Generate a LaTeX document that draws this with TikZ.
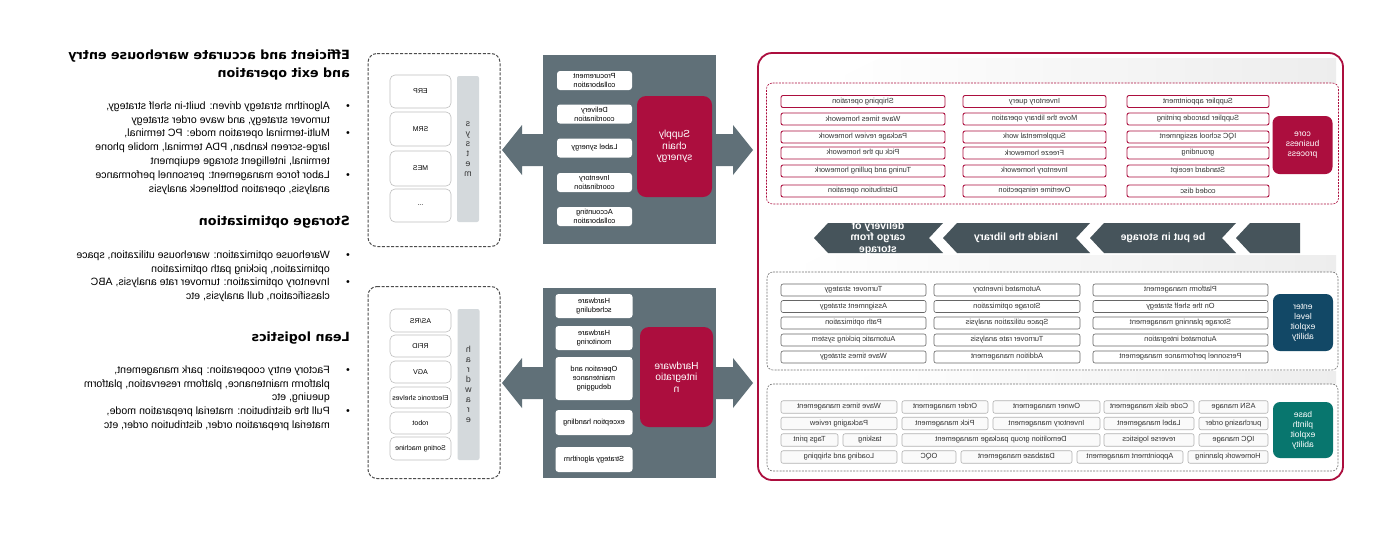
\documentclass[tikz,border=0pt]{standalone}
\usepackage{fontspec}
\setmainfont{Liberation Sans}
\newfontfamily\headfont{DejaVu Sans}
\definecolor{wmsred}{RGB}{172,14,62}
\definecolor{wmsslate}{RGB}{96,112,120}
\definecolor{wmschev}{RGB}{70,84,91}
\definecolor{wmsblue}{RGB}{18,72,102}
\definecolor{wmsteal}{RGB}{8,118,110}
\definecolor{wmsbar}{RGB}{212,217,220}
\begin{document}
\begin{tikzpicture}[x=1pt, y=-1pt,
        every node/.append style={xscale=-1},
        heading/.style={anchor=north west, inner sep=0pt, align=left, font=\headfont\fontsize{12.7}{18}\selectfont\bfseries},
        para/.style={anchor=north west, inner sep=0pt, align=left, font=\fontsize{10.6}{13.7}\selectfont},
        bulletdot/.style={anchor=base, inner sep=0pt, font=\fontsize{10.5}{13.7}\selectfont},
        shell/.style={draw=black!70, dash pattern=on 3pt off 1.6pt, line width=1pt, rounded corners=9pt, minimum width=132, inner sep=0pt},
        sysitem/.style={draw=black!25, line width=0.6pt, rounded corners=5pt, minimum width=61, inner sep=0pt, font=\fontsize{7}{8}\selectfont},
        sysbar/.style={fill=wmsbar, rounded corners=2pt, minimum width=22, inner sep=0pt, align=center, text=black!80, font=\fontsize{8.8}{10}\selectfont},
        panel/.style={fill=wmsslate, minimum width=173, inner sep=0pt},
        task/.style={fill=white, rounded corners=3pt, minimum width=75, inner sep=0pt, align=center, font=\fontsize{7.4}{9}\selectfont},
        hub/.style={fill=wmsred, rounded corners=9pt, text=white, inner sep=0pt, align=center, font=\fontsize{10.2}{11.5}\selectfont},
        outerframe/.style={draw=wmsred, fill=white, line width=1.8pt, rounded corners=14pt, minimum width=585, minimum height=427, inner sep=0pt},
        zone/.style={draw=black!55, dash pattern=on 2pt off 1.2pt, line width=0.6pt, rounded corners=6pt, minimum width=571, inner sep=0pt},
        tag/.style={rounded corners=7pt, text=white, minimum width=60, inner sep=0pt, align=center, font=\fontsize{8.5}{10}\selectfont},
        core/.style={draw=wmsred, line width=0.9pt, rounded corners=2pt, minimum height=12, inner sep=0pt, text=black!80, font=\fontsize{7.4}{8}\selectfont},
        ent/.style={core, draw=black!60, line width=0.6pt},
        plinth/.style={core, draw=black!30, fill=black!2, line width=0.6pt, minimum height=12.5},
        stage/.style={fill=wmschev},
        stagetext/.style={text=white, align=center, inner sep=0pt, font=\fontsize{10.5}{11.5}\selectfont\bfseries},
        sheen/.style={left color=white, right color=black!7}
    ]
        \useasboundingbox[fill=white] (0,0) rectangle (1380,550);

        % Text column
        \node[heading] (h1) at (350,50) {Efficient and accurate warehouse entry\\and exit operation};
        \node[bulletdot] (d1) at (348,109) {•};
        \node[para] (t1) at (330,101.5) {Algorithm strategy driven: built-in shelf strategy,\\turnover strategy, and wave order strategy};
        \node[bulletdot] (d2) at (348,136.5) {•};
        \node[para] (t2) at (330,129) {Multi-terminal operation mode: PC terminal,\\large-screen kanban, PDA terminal, mobile phone\\terminal, intelligent storage equipment};
        \node[bulletdot] (d3) at (348,178) {•};
        \node[para] (t3) at (330,170.5) {Labor force management: personnel performance\\analysis, operation bottleneck analysis};
        \node[heading] (h2) at (350,216) {Storage optimization};
        \node[bulletdot] (d4) at (348,258) {•};
        \node[para] (t4) at (330,250.5) {Warehouse optimization: warehouse utilization, space\\optimization, picking path optimization};
        \node[bulletdot] (d5) at (348,285) {•};
        \node[para] (t5) at (330,277.5) {Inventory optimization: turnover rate analysis, ABC\\classification, dull analysis, etc};
        \node[heading] (h3) at (350,332) {Lean logistics};
        \node[bulletdot] (d6) at (348,373) {•};
        \node[para] (t6) at (330,365.5) {Factory entry cooperation: park management,\\platform maintenance, platform reservation, platform\\queuing, etc};
        \node[bulletdot] (d7) at (348,414) {•};
        \node[para] (t7) at (330,406.5) {Pull the distribution: material preparation mode,\\material preparation order, distribution order, etc};

        % Block arrows behind the panels
        \fill[wmsslate] (502,150) -- (522,125) -- (522,134) -- (733,134) -- (733,125) -- (753,150)
            -- (733,175) -- (733,166) -- (522,166) -- (522,175) -- cycle;
        \fill[wmsslate] (502,383) -- (522,358) -- (522,367) -- (733,367) -- (733,358) -- (753,383)
            -- (733,408) -- (733,399) -- (522,399) -- (522,408) -- cycle;

        % System shell
        \node[shell, minimum height=193] (sys) at (434,150) {};
        \node[sysitem, minimum height=33] (erp) at (420.5,91.5) {ERP};
        \node[sysitem, minimum height=34] (srm) at (420.5,129) {SRM};
        \node[sysitem, minimum height=35] (mes) at (420.5,168.5) {MES};
        \node[sysitem, minimum height=33] (etc) at (420.5,205.5) {...};
        \node[sysbar, minimum height=146] (sysbar) at (468,149) {s\\y\\s\\t\\e\\m};

        % Hardware shell
        \node[shell, minimum height=192] (hw) at (434,382.5) {};
        \node[sysitem, minimum height=23] (asrs) at (420.5,320.5) {AS/RS};
        \node[sysitem, minimum height=22] (rfid) at (420.5,346) {RFID};
        \node[sysitem, minimum height=22] (agv) at (420.5,372) {AGV};
        \node[sysitem, minimum height=21] (shelf) at (420.5,397.5) {Electronic shelves};
        \node[sysitem, minimum height=22] (robot) at (420.5,423) {robot};
        \node[sysitem, minimum height=23] (sort) at (420.5,448.5) {Sorting machine};
        \node[sysbar, minimum height=151] (hwbar) at (468.5,384.5) {h\\a\\r\\d\\w\\a\\r\\e};

        % Supply chain synergy panel
        \node[panel, minimum height=189] (scs) at (629.5,149) {};
        \node[task, minimum height=19] (proc) at (594.5,80.5) {Procurement\\collaboration};
        \node[task, minimum height=19] (deli) at (594.5,114) {Delivery\\coordination};
        \node[task, minimum height=19] (label) at (594.5,148) {Label synergy};
        \node[task, minimum height=19] (invc) at (594.5,182.5) {Inventory\\coordination};
        \node[task, minimum height=19] (acc) at (594.5,216.5) {Accounting\\collaboration};
        \node[hub, minimum width=75, minimum height=101] (scshub) at (674.5,146.5) {Supply\\chain\\synergy};

        % Hardware integration panel
        \node[panel, minimum height=190] (hwi) at (629.5,383) {};
        \node[task, minimum width=77, minimum height=24] (sched) at (594,306) {Hardware\\scheduling};
        \node[task, minimum width=77, minimum height=24] (moni) at (594,338) {Hardware\\monitoring};
        \node[task, minimum width=77, minimum height=43] (oper) at (594,378.5) {Operation and\\maintenance\\debugging};
        \node[task, minimum width=77, minimum height=25] (exc) at (594,422.5) {exception handling};
        \node[task, minimum width=77, minimum height=25] (algo) at (594,459.5) {Strategy algorithm};
        \node[hub, minimum width=73, minimum height=100] (hwihub) at (676.5,377) {Hardware\\integratio\\n};

        % WMS frame
        \node[outerframe] (wms) at (1050.5,266.5) {};
        \shade[sheen] (830,83) -- (880,58) -- (1336,58) -- (1336,83) -- cycle;
        \shade[sheen] (790,272) -- (825,255) -- (1336,255) -- (1336,272) -- cycle;
        \shade[sheen] (850,384) -- (880,371) -- (1336,371) -- (1336,384) -- cycle;

        % Core business process
        \node[zone, draw=wmsred, minimum width=572, minimum height=121] (corez) at (1052.5,143.5) {};
        \node[tag, fill=wmsred, minimum height=58] (coretag) at (1302.5,145) {core\\business\\process};
        \node[core, minimum width=164] (ship) at (863,101.5) {Shipping operation};
        \node[core, minimum width=164] (wavehw) at (863,119) {Wave times homework};
        \node[core, minimum width=164] (packhw) at (863,137) {Package review homework};
        \node[core, minimum width=164] (pickhw) at (863,153) {Pick up the homework};
        \node[core, minimum width=164] (tunehw) at (863,171) {Tuning and pulling homework};
        \node[core, minimum width=164] (dist) at (863,191) {Distribution operation};
        \node[core, minimum width=143] (invq) at (1034.5,101.5) {Inventory query};
        \node[core, minimum width=143] (movel) at (1034.5,119) {Move the library operation};
        \node[core, minimum width=143] (suppw) at (1034.5,137) {Supplemental work};
        \node[core, minimum width=143] (frzhw) at (1034.5,153) {Freeze homework};
        \node[core, minimum width=143] (invhw) at (1034.5,171) {Inventory homework};
        \node[core, minimum width=143] (overt) at (1034.5,191) {Overtime reinspection};
        \node[core, minimum width=142] (sapp) at (1198,101.5) {Supplier appointment};
        \node[core, minimum width=142] (sbar) at (1198,119) {Supplier barcode printing};
        \node[core, minimum width=142] (iqcs) at (1198,137) {IQC school assignment};
        \node[core, minimum width=142] (grnd) at (1198,153) {grounding};
        \node[core, minimum width=142] (stdr) at (1198,171) {Standard receipt};
        \node[core, minimum width=142] (disc) at (1198,191) {coded disc};

        % Warehouse stages
        \fill[stage] (814,238) -- (828,223) -- (943,223) -- (929,238) -- (943,253) -- (828,253) -- cycle;
        \fill[stage] (943,238) -- (957,223) -- (1090,223) -- (1076,238) -- (1090,253) -- (957,253) -- cycle;
        \fill[stage] (1090,238) -- (1104,223) -- (1236,223) -- (1222,238) -- (1236,253) -- (1104,253) -- cycle;
        \fill[stage] (1236,238) -- (1250,223) -- (1300,223) -- (1300,253) -- (1250,253) -- cycle;
        \node[stagetext] (out) at (878,238) {delivery of\\cargo from\\storage};
        \node[stagetext] (inlib) at (1016,238) {Inside the library};
        \node[stagetext] (put) at (1163,238) {be put in storage};

        % Enterprise level exploit ability
        \node[zone, minimum height=98] (entz) at (1052.5,321) {};
        \node[tag, fill=wmsblue, minimum height=57] (enttag) at (1303,322.5) {enter\\level\\exploit\\ability};
        \node[ent, minimum width=145] (turns) at (853.5,290) {Turnover strategy};
        \node[ent, minimum width=145] (assig) at (853.5,306.5) {Assignment strategy};
        \node[ent, minimum width=145] (patho) at (853.5,323) {Path optimization};
        \node[ent, minimum width=145] (autop) at (853.5,340) {Automatic picking system};
        \node[ent, minimum width=145] (waves) at (853.5,357) {Wave times strategy};
        \node[ent, minimum width=146] (autoi) at (1007,290) {Automated inventory};
        \node[ent, minimum width=146] (storo) at (1007,306.5) {Storage optimization};
        \node[ent, minimum width=146] (space) at (1007,323) {Space utilization analysis};
        \node[ent, minimum width=146] (turnr) at (1007,340) {Turnover rate analysis};
        \node[ent, minimum width=146] (addm) at (1007,357) {Addition management};
        \node[ent, minimum width=175] (platm) at (1180.5,290) {Platform management};
        \node[ent, minimum width=175] (shelfs) at (1180.5,306.5) {On the shelf strategy};
        \node[ent, minimum width=175] (splan) at (1180.5,323) {Storage planning management};
        \node[ent, minimum width=175] (autoint) at (1180.5,340) {Automated integration};
        \node[ent, minimum width=175] (perf) at (1180.5,357) {Personnel performance management};

        % Base plinth exploit ability
        \node[zone, minimum height=87] (basez) at (1052.5,427.5) {};
        \node[tag, fill=wmsteal, minimum height=56] (basetag) at (1303,430) {base\\plinth\\exploit\\ability};
        \node[plinth, minimum width=116] (wavem) at (839,407) {Wave times management};
        \node[plinth, minimum width=86] (ordm) at (945,407) {Order management};
        \node[plinth, minimum width=107] (ownm) at (1046.5,407) {Owner management};
        \node[plinth, minimum width=90] (codem) at (1149,407) {Code disk management};
        \node[plinth, minimum width=69] (asn) at (1233.5,407) {ASN manage};
        \node[plinth, minimum width=116] (packr) at (839,423.5) {Packaging review};
        \node[plinth, minimum width=86] (pickm) at (945,423.5) {Pick management};
        \node[plinth, minimum width=107] (invm) at (1046.5,423.5) {Inventory management};
        \node[plinth, minimum width=90] (labm) at (1149,423.5) {Label management};
        \node[plinth, minimum width=69] (purch) at (1233.5,423.5) {purchasing order};
        \node[plinth, minimum width=57] (tags) at (809.5,440) {Tags print};
        \node[plinth, minimum width=54] (task) at (870,440) {tasking};
        \node[plinth, minimum width=198] (demo) at (1001,440) {Demolition group package management};
        \node[plinth, minimum width=90] (rev) at (1149,440) {reverse logistics};
        \node[plinth, minimum width=69] (iqcm) at (1233.5,440) {IQC manage};
        \node[plinth, minimum width=116] (load) at (839,457) {Loading and shipping};
        \node[plinth, minimum width=54] (oqc) at (929,457) {OQC};
        \node[plinth, minimum width=111] (dbm) at (1016.5,457) {Database management};
        \node[plinth, minimum width=106] (appm) at (1130,457) {Appointment management};
        \node[plinth, minimum width=80] (hwplan) at (1228,457) {Homework planning};
    \end{tikzpicture}
\end{document}
